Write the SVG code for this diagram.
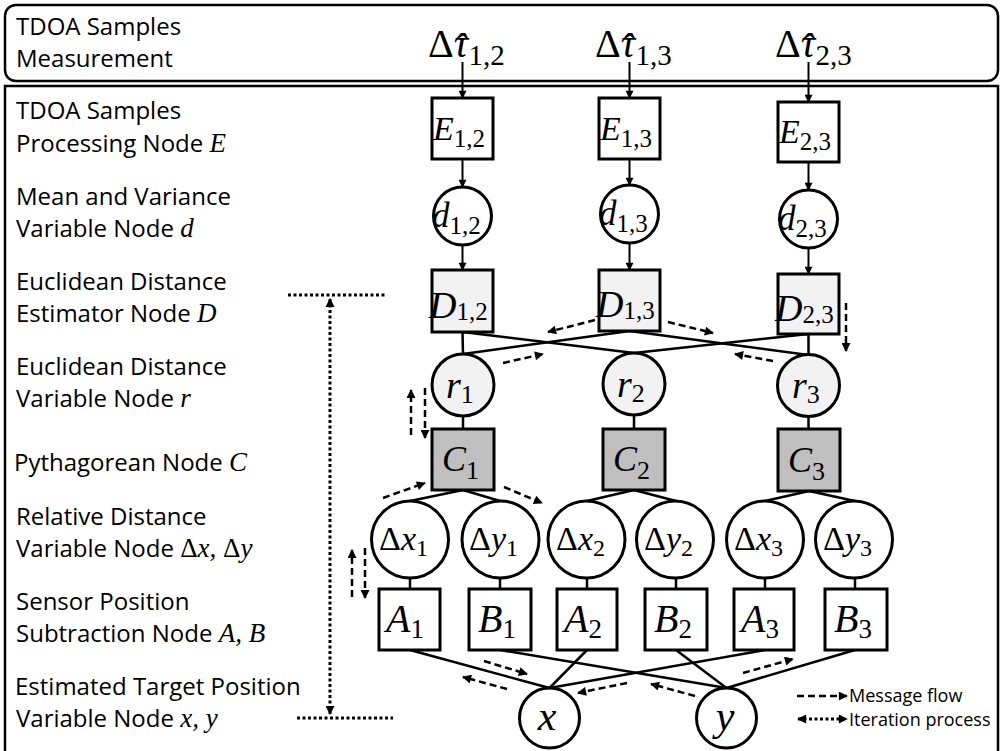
<svg xmlns="http://www.w3.org/2000/svg" width="1003" height="751" viewBox="0 0 1003 751">
<defs>
<style>
.bg{fill:#fff}
.frame{fill:none;stroke:#000;stroke-width:2.5}
.nd{fill:#fff;stroke:#000;stroke-width:3}
.g1{fill:#f2f2f2}
.g2{fill:#bfbfbf}
.ln{stroke:#000;stroke-width:2.5;fill:none}
.ar{stroke:#000;stroke-width:2;fill:none;marker-end:url(#a)}
.mf{stroke:#000;stroke-width:2.5;fill:none;stroke-dasharray:7 4;marker-end:url(#am)}
.it{stroke:#000;stroke-width:3;fill:none;stroke-dasharray:3 2.5}
.itb{stroke:#000;stroke-width:3;fill:none;stroke-dasharray:3 2.5;marker-start:url(#ai);marker-end:url(#ai)}
.lbl{font-family:"Open Sans","Liberation Sans",sans-serif;font-size:24px;fill:#000}
.leg{font-family:"Open Sans","Liberation Sans",sans-serif;font-size:18px;fill:#000}
.m{font-family:"Liberation Serif","DejaVu Serif",serif;font-style:italic;fill:#000}
.up{font-style:normal}
</style>
<marker id="a" viewBox="0 0 10 10" refX="9" refY="5" markerWidth="9" markerHeight="8" markerUnits="userSpaceOnUse" orient="auto"><path d="M0,0L10,5L0,10z"/></marker>
<marker id="am" viewBox="0 0 10 10" refX="9" refY="5" markerWidth="10" markerHeight="9" markerUnits="userSpaceOnUse" orient="auto"><path d="M0,0L10,5L0,10z"/></marker>
<marker id="ai" viewBox="0 0 10 10" refX="9" refY="5" markerWidth="10" markerHeight="9" markerUnits="userSpaceOnUse" orient="auto-start-reverse"><path d="M0,0L10,5L0,10z"/></marker>
</defs>
<rect class="bg" x="0" y="0" width="1003" height="751"/>

<g id="frames">
<rect class="frame" x="5" y="5" width="993" height="76" rx="11" ry="11"/>
<rect class="frame" x="5" y="86" width="993" height="675"/>
</g>

<g id="labels">
<text class="lbl" x="16" y="35">TDOA Samples</text>
<text class="lbl" x="16" y="67">Measurement</text>
<text class="lbl" x="16" y="119">TDOA Samples</text>
<text class="lbl" x="16" y="152">Processing Node <tspan class="m" font-size="27">E</tspan></text>
<text class="lbl" x="16" y="205">Mean and Variance</text>
<text class="lbl" x="16" y="237">Variable Node <tspan class="m" font-size="27">d</tspan></text>
<text class="lbl" x="16" y="290">Euclidean Distance</text>
<text class="lbl" x="16" y="322">Estimator Node <tspan class="m" font-size="27">D</tspan></text>
<text class="lbl" x="16" y="375">Euclidean Distance</text>
<text class="lbl" x="16" y="407">Variable Node <tspan class="m" font-size="27">r</tspan></text>
<text class="lbl" x="14" y="471">Pythagorean Node <tspan class="m" font-size="27">C</tspan></text>
<text class="lbl" x="16" y="525">Relative Distance</text>
<text class="lbl" x="16" y="557">Variable Node <tspan class="m" font-size="27"><tspan class="up">Δ</tspan>x, <tspan class="up">Δ</tspan>y</tspan></text>
<text class="lbl" x="16" y="610">Sensor Position</text>
<text class="lbl" x="16" y="642">Subtraction Node <tspan class="m" font-size="27">A, B</tspan></text>
<text class="lbl" x="15" y="695">Estimated Target Position</text>
<text class="lbl" x="16" y="727">Variable Node <tspan class="m" font-size="27">x, y</tspan></text>
</g>

<g id="meas">
<text class="m" x="428" y="57" font-size="40"><tspan class="up">Δ</tspan>τ<tspan dx="-15" dy="4">ˆ</tspan><tspan class="up" font-size="29" dx="2" dy="4">1,2</tspan></text>
<text class="m" x="595" y="57" font-size="40"><tspan class="up">Δ</tspan>τ<tspan dx="-15" dy="4">ˆ</tspan><tspan class="up" font-size="29" dx="2" dy="4">1,3</tspan></text>
<text class="m" x="775" y="57" font-size="40"><tspan class="up">Δ</tspan>τ<tspan dx="-15" dy="4">ˆ</tspan><tspan class="up" font-size="29" dx="2" dy="4">2,3</tspan></text>
</g>

<g id="connectors">
<line class="ar" x1="462.5" y1="62" x2="462.5" y2="98"/>
<line class="ar" x1="629.5" y1="62" x2="629.5" y2="98"/>
<line class="ar" x1="808.5" y1="62" x2="808.5" y2="102"/>
<line class="ar" x1="462.5" y1="159" x2="462.5" y2="187"/>
<line class="ar" x1="629.5" y1="159" x2="629.5" y2="185"/>
<line class="ar" x1="808.5" y1="162" x2="808.5" y2="190"/>
<line class="ar" x1="462.5" y1="245" x2="462.5" y2="270"/>
<line class="ar" x1="629.5" y1="243" x2="629.5" y2="270"/>
<line class="ar" x1="808.5" y1="248" x2="808.5" y2="274"/>
<line class="ln" x1="462.5" y1="332" x2="463" y2="354"/>
<line class="ln" x1="462.5" y1="332" x2="634" y2="353"/>
<line class="ln" x1="629.5" y1="331" x2="463" y2="354"/>
<line class="ln" x1="629.5" y1="331" x2="808.5" y2="355"/>
<line class="ln" x1="808.5" y1="334" x2="808.5" y2="355"/>
<line class="ln" x1="808.5" y1="334" x2="634" y2="353"/>
<line class="ln" x1="463" y1="416" x2="463" y2="429"/>
<line class="ln" x1="634" y1="415" x2="634" y2="429"/>
<line class="ln" x1="808.5" y1="416" x2="808.5" y2="429"/>
<line class="ln" x1="463" y1="490" x2="410" y2="501"/>
<line class="ln" x1="463" y1="490" x2="500" y2="501"/>
<line class="ln" x1="634" y1="490" x2="587" y2="501"/>
<line class="ln" x1="634" y1="490" x2="676" y2="501"/>
<line class="ln" x1="809" y1="491" x2="765" y2="501"/>
<line class="ln" x1="809" y1="491" x2="855" y2="501"/>
<line class="ln" x1="410" y1="578" x2="410" y2="589"/>
<line class="ln" x1="500" y1="578" x2="500" y2="589"/>
<line class="ln" x1="587" y1="578" x2="587" y2="589"/>
<line class="ln" x1="676" y1="578" x2="676" y2="589"/>
<line class="ln" x1="765" y1="578" x2="765" y2="589"/>
<line class="ln" x1="855" y1="578" x2="855" y2="589"/>
<line class="ln" x1="410" y1="650" x2="549.5" y2="688"/>
<line class="ln" x1="587" y1="650" x2="549.5" y2="688"/>
<line class="ln" x1="765" y1="650" x2="549.5" y2="688"/>
<line class="ln" x1="500" y1="650" x2="726.5" y2="688"/>
<line class="ln" x1="676" y1="650" x2="726.5" y2="688"/>
<line class="ln" x1="855" y1="650" x2="726.5" y2="688"/>
</g>

<g id="message-flow">
<line class="mf" x1="595" y1="320" x2="548" y2="332"/>
<line class="mf" x1="668" y1="322" x2="713" y2="333"/>
<line class="mf" x1="503" y1="363" x2="543" y2="354"/>
<line class="mf" x1="773" y1="361" x2="735" y2="354"/>
<line class="mf" x1="846" y1="303" x2="846" y2="351"/>
<line class="mf" x1="411" y1="435" x2="411" y2="390"/>
<line class="mf" x1="425" y1="388" x2="425" y2="438"/>
<line class="mf" x1="383" y1="498" x2="425" y2="483"/>
<line class="mf" x1="504" y1="487" x2="542" y2="503"/>
<line class="mf" x1="352" y1="597" x2="352" y2="550"/>
<line class="mf" x1="365" y1="548" x2="365" y2="598"/>
<line class="mf" x1="484" y1="661" x2="527" y2="674"/>
<line class="mf" x1="507" y1="689" x2="463" y2="677"/>
<line class="mf" x1="627" y1="683" x2="578" y2="693"/>
<line class="mf" x1="695" y1="696" x2="651" y2="684"/>
<line class="mf" x1="743" y1="673" x2="793" y2="659"/>
</g>

<g id="iteration">
<line class="it" x1="288" y1="295" x2="385" y2="295"/>
<line class="it" x1="297" y1="718" x2="393" y2="718"/>
<line class="itb" x1="330" y1="299" x2="330" y2="714"/>
</g>

<g id="E12"><rect class="nd" x="432" y="98" width="61" height="61"/><text class="m" x="433" y="140" font-size="34">E<tspan class="up" font-size="25" dy="7">1,2</tspan></text></g>
<g id="E13"><rect class="nd" x="599" y="98" width="61" height="61"/><text class="m" x="600" y="140" font-size="34">E<tspan class="up" font-size="25" dy="7">1,3</tspan></text></g>
<g id="E23"><rect class="nd" x="778" y="102" width="61" height="60"/><text class="m" x="779" y="143" font-size="34">E<tspan class="up" font-size="25" dy="7">2,3</tspan></text></g>

<g id="d12"><circle class="nd" cx="462.5" cy="216" r="29"/><text class="m" x="432" y="227" font-size="35">d<tspan class="up" font-size="25" dy="7">1,2</tspan></text></g>
<g id="d13"><circle class="nd" cx="629.5" cy="214" r="29"/><text class="m" x="599" y="225" font-size="35">d<tspan class="up" font-size="25" dy="7">1,3</tspan></text></g>
<g id="d23"><circle class="nd" cx="808.5" cy="219" r="29"/><text class="m" x="778" y="230" font-size="35">d<tspan class="up" font-size="25" dy="7">2,3</tspan></text></g>

<g id="D12"><rect class="nd g1" x="432" y="270" width="61" height="62"/><text class="m" x="429" y="318" font-size="38">D<tspan class="up" font-size="25" dy="2">1,2</tspan></text></g>
<g id="D13"><rect class="nd g1" x="599" y="270" width="61" height="61"/><text class="m" x="596" y="317" font-size="38">D<tspan class="up" font-size="25" dy="2">1,3</tspan></text></g>
<g id="D23"><rect class="nd g1" x="778" y="274" width="61" height="60"/><text class="m" x="775" y="321" font-size="38">D<tspan class="up" font-size="25" dy="2">2,3</tspan></text></g>

<g id="r1"><circle class="nd g1" cx="463" cy="385" r="31"/><text class="m" x="446" y="398" font-size="38">r<tspan class="up" font-size="26" dy="5">1</tspan></text></g>
<g id="r2"><circle class="nd g1" cx="634" cy="384" r="31"/><text class="m" x="617" y="397" font-size="38">r<tspan class="up" font-size="26" dy="5">2</tspan></text></g>
<g id="r3"><circle class="nd g1" cx="808.5" cy="385.5" r="31"/><text class="m" x="792" y="398" font-size="38">r<tspan class="up" font-size="26" dy="5">3</tspan></text></g>

<g id="C1"><rect class="nd g2" x="432" y="429" width="62" height="61"/><text class="m" x="442" y="471" font-size="36">C<tspan class="up" font-size="26" dy="8">1</tspan></text></g>
<g id="C2"><rect class="nd g2" x="603" y="429" width="62" height="61"/><text class="m" x="613" y="471" font-size="36">C<tspan class="up" font-size="26" dy="8">2</tspan></text></g>
<g id="C3"><rect class="nd g2" x="778" y="429" width="62" height="62"/><text class="m" x="788" y="472" font-size="36">C<tspan class="up" font-size="26" dy="8">3</tspan></text></g>

<g id="dx1"><circle class="nd" cx="410" cy="539.5" r="38.5"/><text class="m" x="379" y="550" font-size="34"><tspan class="up">Δ</tspan>x<tspan class="up" font-size="24" dy="6">1</tspan></text></g>
<g id="dy1"><circle class="nd" cx="500.5" cy="539.5" r="38.5"/><text class="m" x="469" y="550" font-size="34"><tspan class="up">Δ</tspan>y<tspan class="up" font-size="24" dy="6">1</tspan></text></g>
<g id="dx2"><circle class="nd" cx="586.5" cy="539.5" r="38.5"/><text class="m" x="556" y="550" font-size="34"><tspan class="up">Δ</tspan>x<tspan class="up" font-size="24" dy="6">2</tspan></text></g>
<g id="dy2"><circle class="nd" cx="675" cy="539.5" r="38.5"/><text class="m" x="644" y="550" font-size="34"><tspan class="up">Δ</tspan>y<tspan class="up" font-size="24" dy="6">2</tspan></text></g>
<g id="dx3"><circle class="nd" cx="765" cy="539.5" r="38.5"/><text class="m" x="734" y="550" font-size="34"><tspan class="up">Δ</tspan>x<tspan class="up" font-size="24" dy="6">3</tspan></text></g>
<g id="dy3"><circle class="nd" cx="854" cy="539.5" r="38.5"/><text class="m" x="823" y="550" font-size="34"><tspan class="up">Δ</tspan>y<tspan class="up" font-size="24" dy="6">3</tspan></text></g>

<g id="A1"><rect class="nd" x="379" y="589" width="61" height="61"/><text class="m" x="386" y="632" font-size="40">A<tspan class="up" font-size="27" dy="6">1</tspan></text></g>
<g id="B1"><rect class="nd" x="469" y="589" width="62" height="61"/><text class="m" x="478" y="632" font-size="40">B<tspan class="up" font-size="27" dy="6">1</tspan></text></g>
<g id="A2"><rect class="nd" x="557" y="589" width="60" height="61"/><text class="m" x="564" y="632" font-size="40">A<tspan class="up" font-size="27" dy="6">2</tspan></text></g>
<g id="B2"><rect class="nd" x="645" y="589" width="62" height="61"/><text class="m" x="654" y="632" font-size="40">B<tspan class="up" font-size="27" dy="6">2</tspan></text></g>
<g id="A3"><rect class="nd" x="734" y="589" width="60" height="61"/><text class="m" x="741" y="632" font-size="40">A<tspan class="up" font-size="27" dy="6">3</tspan></text></g>
<g id="B3"><rect class="nd" x="825" y="589" width="62" height="61"/><text class="m" x="834" y="632" font-size="40">B<tspan class="up" font-size="27" dy="6">3</tspan></text></g>

<g id="x"><circle class="nd" cx="549.5" cy="718" r="30"/><text class="m" x="547" y="730" font-size="42" text-anchor="middle">x</text></g>
<g id="y"><circle class="nd" cx="726.5" cy="718" r="30"/><text class="m" x="725" y="730" font-size="42" text-anchor="middle">y</text></g>

<g id="legend">
<line class="mf" x1="797" y1="696" x2="847" y2="696"/>
<text class="leg" x="849" y="702">Message flow</text>
<line class="itb" x1="798" y1="719" x2="847" y2="719"/>
<text class="leg" x="849" y="726">Iteration process</text>
</g>
</svg>
